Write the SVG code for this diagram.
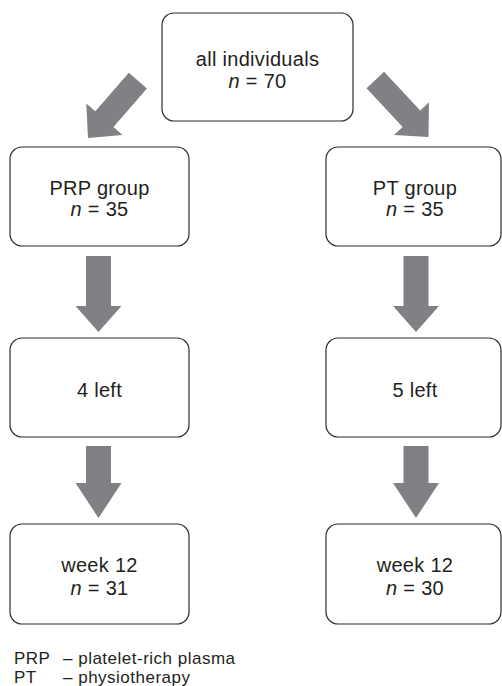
<svg xmlns="http://www.w3.org/2000/svg" width="502" height="686" viewBox="0 0 502 686">
<defs>
<style>
.box{fill:#fff;stroke:#2b2b2b;stroke-width:1.2}
.t{font-family:"Liberation Sans",Arial,sans-serif;font-size:20px;fill:#231f20;text-anchor:middle;letter-spacing:0.3px}
.lg{font-family:"Liberation Sans",Arial,sans-serif;font-size:17px;fill:#231f20;letter-spacing:0.5px}
.arr{fill:#808184}
</style>
</defs>
<rect width="502" height="686" fill="#fff"/>
<g id="connectors">
<path class="arr" transform="translate(88,138) rotate(41)" d="M-12,-76 L12,-76 L12,-25 L24,-25 L0,0 L-24,-25 L-12,-25 Z"/>
<path class="arr" transform="translate(428.5,137) rotate(-43)" d="M-12,-78 L12,-78 L12,-25 L24,-25 L0,0 L-24,-25 L-12,-25 Z"/>
<path class="arr" transform="translate(98.5,332)" d="M-12.5,-76 L12.5,-76 L12.5,-26 L23,-26 L0,0 L-23,-26 L-12.5,-26 Z"/>
<path class="arr" transform="translate(416,332)" d="M-12.5,-76 L12.5,-76 L12.5,-26 L23,-26 L0,0 L-23,-26 L-12.5,-26 Z"/>
<path class="arr" transform="translate(98.5,518)" d="M-12.5,-72 L12.5,-72 L12.5,-35 L23,-35 L0,0 L-23,-35 L-12.5,-35 Z"/>
<path class="arr" transform="translate(416,518)" d="M-12.5,-72 L12.5,-72 L12.5,-35 L23,-35 L0,0 L-23,-35 L-12.5,-35 Z"/>
</g>
<g id="all">
<rect class="box" x="162" y="13" width="191" height="108" rx="12"/>
<text class="t" x="257.5" y="66">all individuals</text>
<text class="t" x="257.5" y="88"><tspan font-style="italic">n</tspan> = 70</text>
</g>
<g id="prp">
<rect class="box" x="10" y="147" width="179" height="99" rx="12"/>
<text class="t" x="99.5" y="195">PRP group</text>
<text class="t" x="99.5" y="216"><tspan font-style="italic">n</tspan> = 35</text>
</g>
<g id="pt">
<rect class="box" x="326" y="147" width="175" height="99" rx="12"/>
<text class="t" x="415" y="195">PT group</text>
<text class="t" x="415" y="216"><tspan font-style="italic">n</tspan> = 35</text>
</g>
<g id="prp-left">
<rect class="box" x="10" y="338" width="179" height="99" rx="12"/>
<text class="t" x="99.5" y="397">4 left</text>
</g>
<g id="pt-left">
<rect class="box" x="326" y="338" width="175" height="99" rx="12"/>
<text class="t" x="415" y="397">5 left</text>
</g>
<g id="prp-week12">
<rect class="box" x="10" y="524" width="179" height="100" rx="12"/>
<text class="t" x="99.5" y="572">week 12</text>
<text class="t" x="99.5" y="595"><tspan font-style="italic">n</tspan> = 31</text>
</g>
<g id="pt-week12">
<rect class="box" x="326" y="524" width="175" height="100" rx="12"/>
<text class="t" x="415" y="572">week 12</text>
<text class="t" x="415" y="595"><tspan font-style="italic">n</tspan> = 30</text>
</g>
<g id="legend">
<text class="lg" x="14" y="664">PRP</text>
<text class="lg" x="63" y="664">– platelet-rich plasma</text>
<text class="lg" x="14" y="683">PT</text>
<text class="lg" x="63" y="683">– physiotherapy</text>
</g>
</svg>
